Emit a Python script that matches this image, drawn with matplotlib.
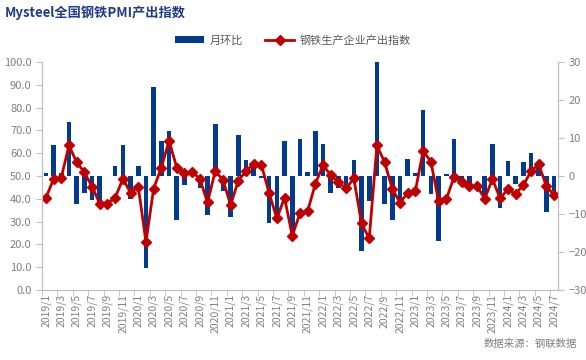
import numpy as np
import matplotlib.pyplot as plt
from matplotlib.ticker import FormatStrFormatter
from matplotlib.patches import Patch
from matplotlib.lines import Line2D

plt.rcParams['font.family'] = ['Noto Sans CJK SC', 'DejaVu Sans']

months = [f'{y}/{m}' for y in range(2019, 2025) for m in range(1, 13)][:67]

# 钢铁生产企业产出指数 (left axis)
output_index = [40.4, 48.6, 49.3, 63.4, 56.0, 51.6, 45.3, 37.9, 37.9, 40.5, 48.7, 42.7,
                45.3, 21.1, 44.5, 53.7, 65.4, 53.7, 51.2, 51.9, 48.7, 38.4, 52.2, 48.2,
                37.3, 48.0, 52.2, 55.4, 54.8, 42.4, 31.4, 40.5, 23.8, 33.6, 34.6, 46.5,
                54.8, 50.3, 47.2, 44.6, 48.9, 29.2, 22.6, 63.4, 56.0, 44.3, 38.3, 42.7,
                43.6, 61.0, 56.3, 39.2, 39.7, 49.4, 47.2, 45.4, 45.5, 40.1, 48.6, 40.2,
                44.1, 42.1, 45.9, 52.0, 55.2, 45.6, 41.6]

# 月环比 (right axis)
mom_change = [0.7, 8.2, 0.7, 14.1, -7.4, -4.4, -6.3, -7.4, 0.0, 2.6, 8.2, -6.0,
              2.6, -24.2, 23.4, 9.2, 11.7, -11.7, -2.5, 0.7, -3.2, -10.3, 13.8, -4.0,
              -10.9, 10.7, 4.2, 3.2, -0.6, -12.4, -11.0, 9.1, -16.7, 9.8, 1.0, 11.9,
              8.3, -4.5, -3.1, -2.6, 4.3, -19.7, -6.6, 40.8, -7.4, -11.7, -6.0, 4.4,
              0.9, 17.4, -4.7, -17.1, 0.5, 9.7, -2.2, -1.8, 0.1, -5.4, 8.5, -8.4,
              3.9, -2.0, 3.8, 6.1, 3.2, -9.6, -4.0]

bar_color = '#003B8E'
line_color = '#C00000'
grey = '#808080'
spine_grey = '#BFBFBF'

fig = plt.figure(figsize=(5.86, 3.6), dpi=100)
ax = fig.add_axes([0.0717, 0.1944, 0.8803, 0.6336])
ax2 = ax.twinx()

x = np.arange(len(months))
ax2.bar(x, mom_change, width=0.6, color=bar_color)
ax.plot(x, output_index, color=line_color, linewidth=2, marker='D', markersize=5)

# line above bars
ax.set_zorder(ax2.get_zorder() + 1)
ax.patch.set_visible(False)

ax.set_ylim(0, 100)
ax.set_yticks(np.arange(0, 101, 10))
ax.yaxis.set_major_formatter(FormatStrFormatter('%.1f'))
ax2.set_ylim(-30, 30)
ax2.set_yticks(np.arange(-30, 31, 10))
ax.set_xlim(-0.5, len(months) - 0.5)

# labels every two months, ticks on category boundaries
ax.set_xticks(x[::2])
ax.set_xticklabels(months[::2], rotation=90)
ax.set_xticks(np.arange(-0.5, len(months), 2), minor=True)
ax.tick_params(axis='x', which='major', length=0, pad=3)
ax.tick_params(axis='x', which='minor', length=4, color=spine_grey)

for a in (ax, ax2):
    a.tick_params(axis='y', labelsize=8, colors=grey, length=4)
    a.tick_params(axis='y', color=spine_grey)
    for s in a.spines.values():
        s.set_color(spine_grey)
    a.spines['top'].set_visible(False)
ax.tick_params(axis='x', labelsize=7.5, labelcolor=grey)
ax2.tick_params(axis='x', length=0)

fig.text(0.008, 0.965, 'Mysteel全国钢铁PMI产出指数', color='#1F3C88',
         fontsize=9.5, fontweight='bold', va='center', ha='left')

handles = [Patch(facecolor=bar_color, label='月环比'),
           Line2D([0], [0], color=line_color, linewidth=2, marker='D', markersize=5,
                  label='钢铁生产企业产出指数')]
fig.legend(handles=handles, loc='center', bbox_to_anchor=(0.5, 0.888), ncol=2,
           frameon=False, fontsize=8, labelcolor='#595959', handlelength=2.6,
           handleheight=0.6, handletextpad=0.5, columnspacing=2.0)

fig.text(0.985, 0.045, '数据来源：钢联数据', color=grey, fontsize=7.5,
         ha='right', va='center')

fig.savefig('out.png', dpi=100)
